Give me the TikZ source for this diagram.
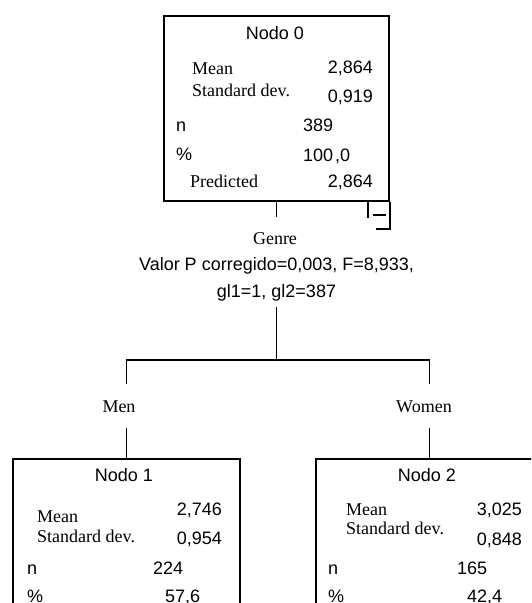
\documentclass[tikz,border=0pt]{standalone}
\usepackage{fontspec}
\setmainfont{Liberation Serif}
\newfontfamily\arialfont{Liberation Sans}
\usetikzlibrary{positioning}

\begin{document}
\begin{tikzpicture}[x=1pt,y=-1pt,
    box/.style={draw,line width=1.6pt,minimum height=185pt,inner sep=0pt},
    ar/.style={font=\arialfont\fontsize{18}{20}\selectfont,inner sep=0pt},
    tr/.style={font=\fontsize{18}{20}\selectfont,inner sep=0pt},
    line/.style={line width=1.6pt}]
    \useasboundingbox (0,0) rectangle (531,603);
    \clip (0,0) rectangle (531,603);
    \node [box, minimum width=225pt] (n0) at (276.5,108.5) {};
    \node [box, minimum width=227pt] (n1) at (126.5,551.5) {};
    \node [box, minimum width=227pt] (n2) at (429.5,551.5) {};
    \node [ar, anchor=base] (t0) at (275,39) {Nodo 0};
    \node [tr, anchor=base west] (mean0) at (192,74) {Mean};
    \node [ar, anchor=base east] (mv0) at (373,73) {2,864};
    \node [tr, anchor=base west] (sd0) at (192,96) {Standard dev.};
    \node [ar, anchor=base east] (sv0) at (373,102) {0,919};
    \node [ar, anchor=base west] (nn0) at (176,131) {n};
    \node [ar, anchor=base west] (nv0) at (303,131) {389};
    \node [ar, anchor=base west] (pc0) at (176,160) {\%};
    \node [ar, anchor=base west] (pv0) at (303,161) {100\kern2pt,0};
    \node [tr, anchor=base west] (pr0) at (190,187) {Predicted};
    \node [ar, anchor=base east] (prv0) at (373,187) {2,864};
    \node [ar, anchor=base] (t1) at (124,481) {Nodo 1};
    \node [tr, anchor=base west] (mean1) at (37,522) {Mean};
    \node [ar, anchor=base east] (mv1) at (222,515) {2,746};
    \node [tr, anchor=base west] (sd1) at (37,542) {Standard dev.};
    \node [ar, anchor=base east] (sv1) at (222,544) {0,954};
    \node [ar, anchor=base west] (nn1) at (27,574) {n};
    \node [ar, anchor=base west] (nv1) at (153,574) {224};
    \node [ar, anchor=base west] (pc1) at (27,602) {\%};
    \node [ar, anchor=base west] (pv1) at (165,602) {57,6};
    \node [ar, anchor=base] (t2) at (427,481) {Nodo 2};
    \node [tr, anchor=base west] (mean2) at (346,515) {Mean};
    \node [ar, anchor=base east] (mv2) at (522,515) {3,025};
    \node [tr, anchor=base west] (sd2) at (346,534) {Standard dev.};
    \node [ar, anchor=base east] (sv2) at (522,545) {0,848};
    \node [ar, anchor=base west] (nn2) at (328,574) {n};
    \node [ar, anchor=base west] (nv2) at (457,574) {165};
    \node [ar, anchor=base west] (pc2) at (328,602) {\%};
    \node [ar, anchor=base west] (pv2) at (467,602) {42,4};
    \node [tr, anchor=base] (genre) at (275,244) {Genre};
    \node [ar, anchor=base] (pval) at (276.5,270) {Valor P corregido=0,003, F=8,933,};
    \node [ar, anchor=base] (gl) at (276.5,297) {gl1=1, gl2=387};
    \node [tr, anchor=base] (men) at (119,412) {Men};
    \node [tr, anchor=base] (women) at (424,412) {Women};
    \coordinate (g0) at (276.5,217);
    \coordinate (s0) at (276.5,307);
    \coordinate (fork) at (276.5,360);
    \coordinate (ml) at (126.5,384);
    \coordinate (wl) at (429.5,384);
    \coordinate (ml2) at (126.5,428);
    \coordinate (wl2) at (429.5,428);
    \draw [line] (n0.south) -- (g0);
    \draw [line] (s0) -- (fork);
    \draw [line] (ml) |- (fork) -| (wl);
    \draw [line] (ml2) -- (n1.north);
    \draw [line] (wl2) -- (n2.north);
    \draw [line] (n0.south east) ++(-22,0) -- ++(0,16);
    \draw [line] (n0.south east) -- ++(0,27) -- ++(-14,0);
    \draw [line] (n0.south east) ++(-17,13) -- ++(13,0);
\end{tikzpicture}
\end{document}
